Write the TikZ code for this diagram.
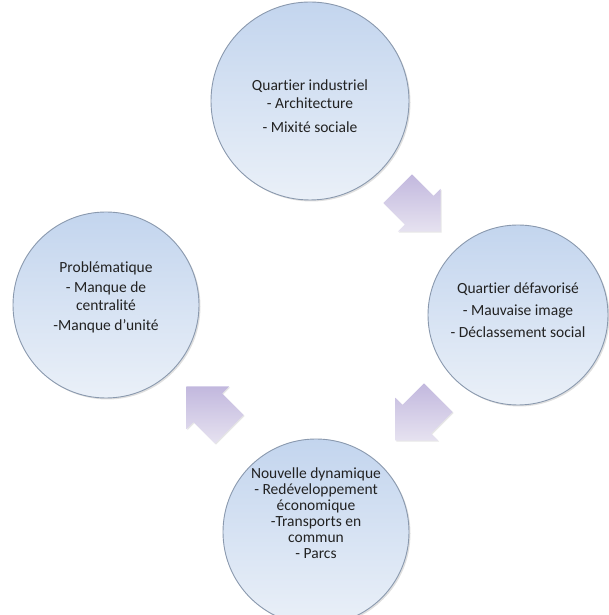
\documentclass[tikz,border=0pt]{standalone}
\usepackage{fontspec}
\setmainfont{Carlito}[Ligatures=NoCommon]
\usetikzlibrary{shapes.arrows,shadows}

\definecolor{circtop}{HTML}{C3D5EE}
\definecolor{circbot}{HTML}{EAF0F8}
\definecolor{circline}{HTML}{8A99AE}
\definecolor{arrtop}{HTML}{C2B8DE}
\definecolor{arrbot}{HTML}{E6E2F0}
\definecolor{txt}{HTML}{222222}

\begin{document}
\begin{tikzpicture}[x=1pt, y=1pt]
    \tikzstyle{every node}=[inner sep=0pt]
    \tikzstyle{stage}=[circle, draw=circline, line width=0.9pt, top color=circtop, bottom color=circbot, drop shadow={shadow xshift=1.5pt, shadow yshift=-1.5pt, opacity=0.25}]
    \tikzstyle{stagetext}=[align=center, text=txt, font=\fontsize{15.5}{18}\selectfont]
    \tikzstyle{flow}=[single arrow, minimum height=54pt, minimum width=60pt, inner sep=20pt, single arrow head extend=10pt, single arrow tip angle=90, top color=arrtop, bottom color=arrbot, drop shadow={shadow xshift=1pt, shadow yshift=-1pt, opacity=0.2}]

    \useasboundingbox (0,0) rectangle (609,615);

% the four stages of the cycle
    \node [stage, minimum size=198pt] (indus) at (310,514) {};
    \node [stage, minimum size=180pt] (defav) at (518,300) {};
    \node [stage, minimum size=186pt] (dyna) at (316,83) {};
    \node [stage, minimum size=186pt] (probl) at (106,310) {};

    \node [stagetext] (indust) at ([yshift=-5pt]indus.center) {Quartier industriel\\- Architecture\\[6pt]- Mixité sociale};
    \node [stagetext] (defavt) at ([yshift=5pt]defav.center) {Quartier défavorisé\\[4pt]- Mauvaise image\\[4pt]- Déclassement social};
    \node [stagetext, font=\fontsize{15.5}{16}\selectfont] (dynat) at ([yshift=19pt]dyna.center) {Nouvelle dynamique\\- Redéveloppement\\économique\\-Transports en\\commun\\- Parcs};
    \node [stagetext] (problt) at ([yshift=8pt]probl.center) {Problématique\\[2pt]- Manque de\\centralité\\[2pt]-Manque d’unité};

% arrows between the stages
    \node [flow, rotate=-45] (a1) at (412,412) {};
    \node [flow, rotate=-135] (a2) at (424,203) {};
    \node [flow, rotate=135] (a3) at (215,200) {};

\end{tikzpicture}
\end{document}
